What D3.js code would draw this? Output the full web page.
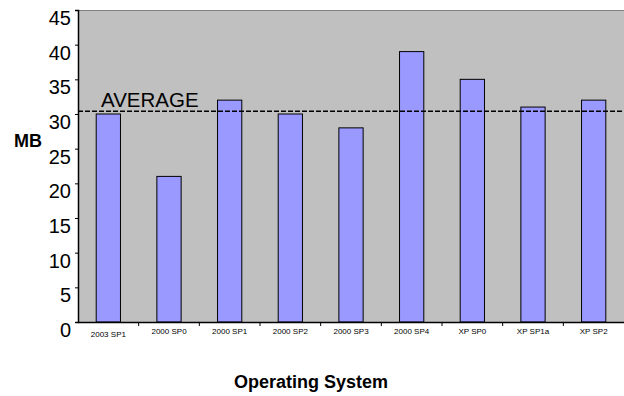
<!DOCTYPE html>
<html>
<head>
<meta charset="utf-8">
<script src="https://cdn.jsdelivr.net/npm/d3@7"></script>
<style>
  html, body { margin: 0; padding: 0; background: #ffffff; }
  svg { display: block; font-family: Arial, "Liberation Sans", sans-serif; }
</style>
</head>
<body>
<svg id="chart" width="624" height="396"></svg>
<script>
const categories = ["2003 SP1", "2000 SP0", "2000 SP1", "2000 SP2", "2000 SP3", "2000 SP4", "XP SP0", "XP SP1a", "XP SP2"];
const memoryMB = [30, 21, 32, 30, 28, 39, 35, 31, 32];
const averageMB = 30.4;
const yTicks = [0, 5, 10, 15, 20, 25, 30, 35, 40, 45];
const titleText = "Average Memory Usage by Operating System";
const yLabel = "MB";
const xLabel = "Operating System";
const averageLabel = "AVERAGE";

const svg = d3.select("#chart");
const W = 624, H = 396;
const m = { left: 78, right: 0, top: 10, bottom: 74 };

const x = d3.scaleBand().domain(categories).range([m.left, W - m.right]).paddingInner(0.6).paddingOuter(0.3);
const y = d3.scaleLinear().domain([0, 45]).range([H - m.bottom, m.top]);

// title (mostly cut off at top, as in the reference)
svg.append("text").attr("x", W / 2).attr("y", -5).attr("text-anchor", "middle")
  .attr("font-size", 20).attr("font-weight", "bold").text(titleText);

// plot background
svg.append("rect").attr("x", m.left).attr("y", m.top)
  .attr("width", W - m.right - m.left).attr("height", y(0) - m.top)
  .attr("fill", "#c0c0c0");
svg.append("line").attr("x1", m.left).attr("x2", W).attr("y1", m.top + 0.5).attr("y2", m.top + 0.5)
  .attr("stroke", "#808080").attr("stroke-width", 1);

// bars
svg.append("g").selectAll("rect").data(categories).join("rect")
  .attr("x", d => x(d))
  .attr("y", (d, i) => y(memoryMB[i]))
  .attr("width", x.bandwidth())
  .attr("height", (d, i) => y(0) - y(memoryMB[i]))
  .attr("fill", "#9999ff").attr("stroke", "#000").attr("stroke-width", 1);

// average line
svg.append("line").attr("x1", m.left).attr("x2", W)
  .attr("y1", y(averageMB)).attr("y2", y(averageMB))
  .attr("stroke", "#000").attr("stroke-width", 1.5).attr("stroke-dasharray", "5,2");
svg.append("text").attr("x", 101).attr("y", y(averageMB) - 4.5)
  .attr("font-size", 20.5).attr("fill", "#000").text(averageLabel);

// y axis
const yAxis = svg.append("g").attr("transform", `translate(${m.left},0)`)
  .call(d3.axisLeft(y).tickValues(yTicks).tickSize(3).tickPadding(4).tickFormat(d3.format("d")));
yAxis.select(".domain").attr("stroke", "#000").attr("stroke-width", 1.5);
yAxis.selectAll("text").attr("font-size", 20).attr("font-family", "Arial, 'Liberation Sans', sans-serif").attr("fill", "#000")
  .attr("dy", "0.72em");

// x axis
const xAxis = svg.append("g").attr("transform", `translate(0,${y(0)})`)
  .call(d3.axisBottom(x).tickSize(0).tickPadding(6.5));
xAxis.select(".domain").attr("stroke", "#000").attr("stroke-width", 1.5);
xAxis.selectAll("text").attr("font-size", 8).attr("font-family", "Arial, 'Liberation Sans', sans-serif").attr("fill", "#000")
  .attr("dy", (d, i) => i === 0 ? "1.1em" : "0.71em");
// boundary ticks between categories
const step = x.step();
const bounds = categories.slice(1).map(c => x(c) - (step - x.bandwidth()) / 2);
svg.append("g").selectAll("line").data(bounds).join("line")
  .attr("x1", d => d).attr("x2", d => d)
  .attr("y1", y(0)).attr("y2", y(0) + 4)
  .attr("stroke", "#000").attr("stroke-width", 1);

// axis titles
svg.append("text").attr("x", 28).attr("y", 146.5).attr("text-anchor", "middle")
  .attr("font-size", 18).attr("font-weight", "bold").text(yLabel);
svg.append("text").attr("x", 311).attr("y", 388).attr("text-anchor", "middle")
  .attr("font-size", 18).attr("font-weight", "bold").text(xLabel);
</script>
</body>
</html>
